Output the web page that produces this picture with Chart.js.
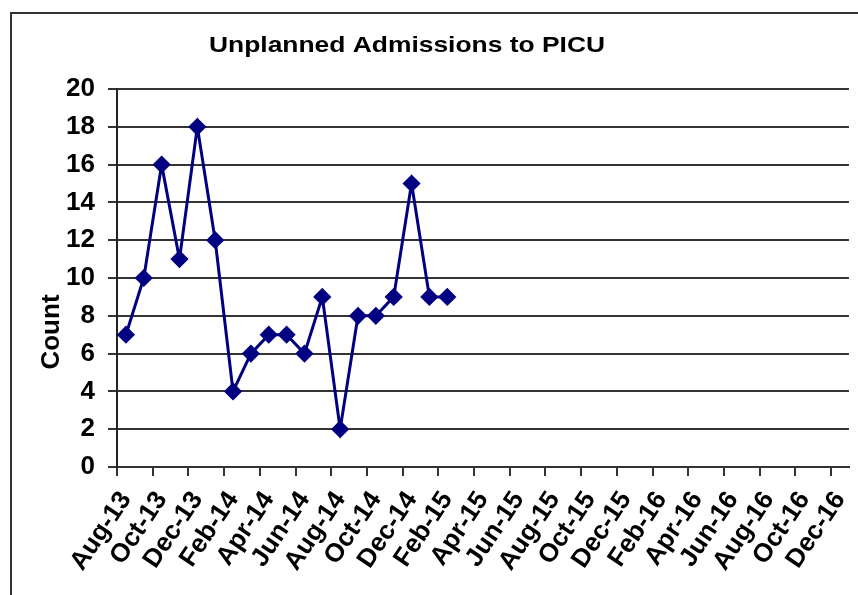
<!DOCTYPE html>
<html>
<head>
<meta charset="utf-8">
<script src="https://cdn.jsdelivr.net/npm/chart.js@4"></script>
<style>
    html, body { margin: 0; padding: 0; background: #fff; overflow: hidden; }
    #wrap { position: relative; width: 858px; height: 595px; overflow: hidden; }
    #frame { position: absolute; left: 10px; top: 12px; width: 880px; height: 620px; border: 2px solid #333; box-sizing: border-box; }
    #chart { position: absolute; left: 0; top: 0; }
</style>
</head>
<body>
<div id="wrap">
    <div id="frame"></div>
    <canvas id="chart" width="876" height="595"></canvas>
</div>
<script>
const chartTitle = 'Unplanned Admissions to PICU';
const axisTitle = 'Count';

const months = [
    'Aug-13', 'Sep-13', 'Oct-13', 'Nov-13', 'Dec-13',
    'Jan-14', 'Feb-14', 'Mar-14', 'Apr-14', 'May-14', 'Jun-14', 'Jul-14', 'Aug-14', 'Sep-14', 'Oct-14', 'Nov-14', 'Dec-14',
    'Jan-15', 'Feb-15', 'Mar-15', 'Apr-15', 'May-15', 'Jun-15', 'Jul-15', 'Aug-15', 'Sep-15', 'Oct-15', 'Nov-15', 'Dec-15',
    'Jan-16', 'Feb-16', 'Mar-16', 'Apr-16', 'May-16', 'Jun-16', 'Jul-16', 'Aug-16', 'Sep-16', 'Oct-16', 'Nov-16', 'Dec-16'
];

// monthly unplanned admissions, Aug-13 .. Feb-15
const counts = [7, 10, 16, 11, 18, 12, 4, 6, 7, 7, 6, 9, 2, 8, 8, 9, 15, 9, 9];

const yMin = 0;
const yMax = 20;
const yStep = 2;

const FONT = '"Liberation Sans", Arial, sans-serif';

// title and y axis title are placed like the original (not centred on the plot)
const textPlugin = {
    id: 'texts',
    afterDraw(chart) {
        const ctx = chart.ctx;
        ctx.save();
        ctx.fillStyle = '#000';
        ctx.textAlign = 'center';
        ctx.textBaseline = 'middle';
        ctx.font = 'bold 22px ' + FONT;
        // the original title is drawn a bit wide
        ctx.save();
        ctx.translate(407, 46);
        ctx.scale(1.2, 1);
        ctx.fillText(chartTitle, 0, 0);
        ctx.restore();
        ctx.translate(52, 332);
        ctx.rotate(-Math.PI / 2);
        ctx.font = 'bold 26px ' + FONT;
        ctx.fillText(axisTitle, 0, 0);
        ctx.restore();
    }
};

const ctx = document.getElementById('chart').getContext('2d');
new Chart(ctx, {
    type: 'line',
    data: {
        labels: months,
        datasets: [{
            label: 'Count',
            data: counts,
            borderColor: '#000080',
            backgroundColor: '#000080',
            borderWidth: 3,
            pointStyle: 'rectRot',
            pointRadius: 7,
            pointHoverRadius: 7,
            tension: 0
        }]
    },
    options: {
        responsive: false,
        animation: false,
        layout: { padding: { left: 0, top: 89, right: 10, bottom: 0 } },
        plugins: {
            legend: { display: false },
            title: { display: false },
            tooltip: { enabled: false }
        },
        scales: {
            x: {
                offset: true,
                grid: {
                    offset: true,
                    drawOnChartArea: false,
                    tickLength: 9,
                    lineWidth: 2,
                    color: c => (c.index % 2 === 0 ? '#333' : 'rgba(0,0,0,0)')
                },
                border: { color: '#333', width: 2 },
                ticks: {
                    autoSkip: false,
                    minRotation: 56,
                    maxRotation: 56,
                    padding: 10,
                    color: '#000',
                    font: { family: FONT, size: 26, weight: 'bold' },
                    callback: (v, i) => (i % 2 === 0 ? months[i] : '')
                },
                afterFit: s => { s.height = 128; }
            },
            y: {
                min: yMin,
                max: yMax,
                grid: { color: '#333', lineWidth: 2, tickLength: 9 },
                border: { color: '#222', width: 2 },
                ticks: {
                    stepSize: yStep,
                    padding: 13,
                    color: '#000',
                    font: { family: FONT, size: 26, weight: 'bold' }
                },
                afterFit: s => { s.width = 117; }
            }
        }
    },
    plugins: [textPlugin]
});
</script>
</body>
</html>
